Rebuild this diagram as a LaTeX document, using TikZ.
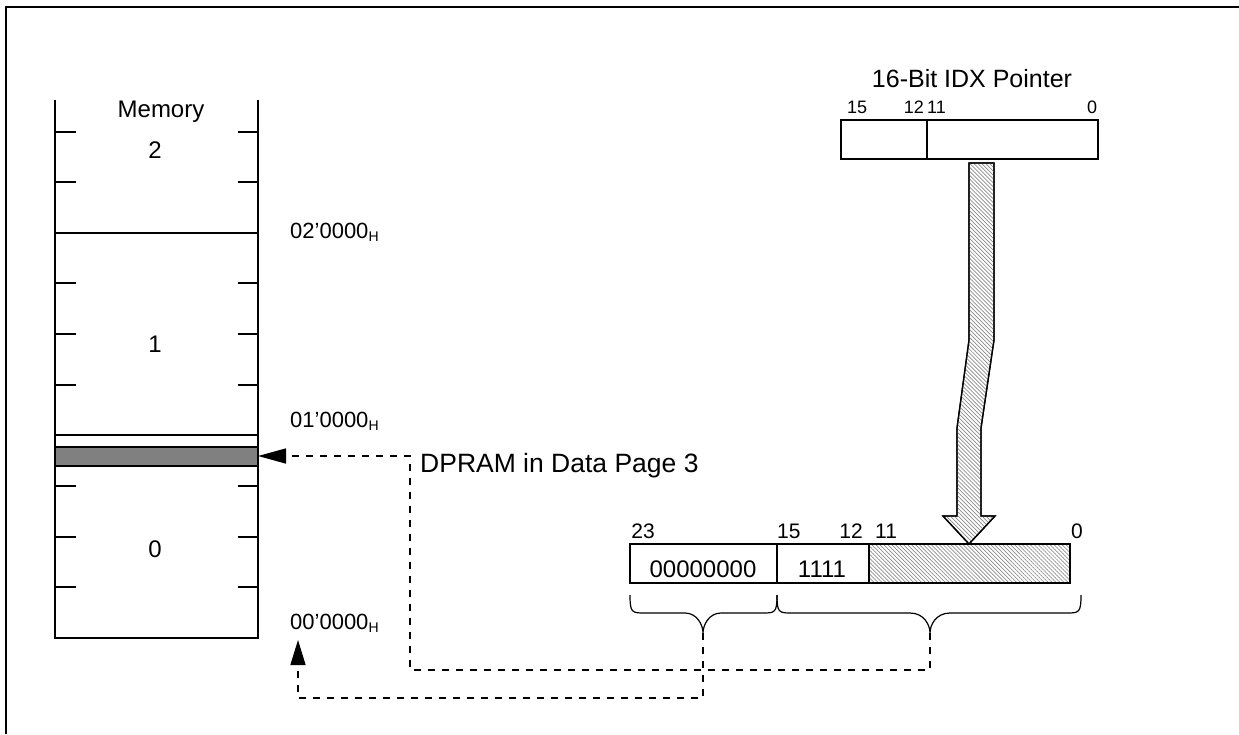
\documentclass[tikz,border=0pt]{standalone}
\usepackage{fontspec}
\setmainfont{Liberation Sans}
\usetikzlibrary{arrows.meta,patterns.meta}
\tikzset{
  ln/.style={line width=1.6pt},
  thin/.style={line width=1.3pt},
  dsh/.style={line width=1.5pt, dash pattern=on 7pt off 7pt},
  lbl/.style={inner sep=0pt, anchor=base, font=\fontsize{24}{24}\selectfont},
  bitn/.style={inner sep=0pt, anchor=base, font=\fontsize{18}{18}\selectfont},
  hatch/.style={pattern={Lines[angle=-45,distance=2.8pt,line width=0.7pt]}, pattern color=gray!90},
  addr/.style={inner sep=0pt, anchor=base west, font=\fontsize{22}{22}\selectfont},
}
\newcommand{\hsub}{\textsubscript{\fontsize{14}{14}\selectfont H}}
\begin{document}
\begin{tikzpicture}[x=1pt,y=-1pt]
\useasboundingbox (0,0) rectangle (1239,734);
% frame
\draw[line width=2pt] (6,734) -- (6,7) -- (1239,7);

% memory column
\draw[ln] (55,100) -- (55,638) -- (258,638) -- (258,100);
\foreach \y in {132,182,283,334,385,486,537,587}{
  \draw[ln] (55,\y) -- (76,\y);
  \draw[ln] (238,\y) -- (258,\y);
}
\draw[ln] (55,233) -- (258,233);
\draw[ln] (55,435) -- (258,435);
\draw[ln, fill=gray] (55,447) rectangle (258,466);
\coordinate (band) at (258,456);
\node[lbl] (memt) at (161,117) {Memory};
\node[lbl] (m2) at (155,158) {2};
\node[lbl] (m1) at (155,352) {1};
\node[lbl] (m0) at (155,557) {0};
\node[addr] (a2) at (290,238) {02’0000\hsub};
\node[addr] (a1) at (290,427) {01’0000\hsub};
\node[addr] (a0) at (290,629) {00’0000\hsub};
\coordinate (a0b) at (298,640);

\node[inner sep=0pt, anchor=base west, font=\fontsize{26.5}{26.5}\selectfont] (dpram) at (420,472) {DPRAM in Data Page 3};

% top pointer
\node[inner sep=0pt, anchor=base, font=\fontsize{25}{25}\selectfont] (title) at (972,87) {16-Bit IDX Pointer};
\draw[ln] (841,120) rectangle (1098,159);
\draw[ln] (927,120) -- (927,159);
\node[bitn] (t15) at (857,113) {15};
\node[bitn, anchor=base east] (t12) at (924,113) {12};
\node[bitn, anchor=base west] (t11) at (927,113) {11};
\node[bitn] (t0) at (1092,113) {0};

% thick arrow
\draw[thin, fill=white] (969,163) -- (994,163) -- (994,340) -- (981,428) -- (981,516) -- (995,516) -- (969,544) -- (943,516) -- (957,516) -- (957,428) -- (969,340) -- cycle;
\draw[thin, hatch] (969,163) -- (994,163) -- (994,340) -- (981,428) -- (981,516) -- (995,516) -- (969,544) -- (943,516) -- (957,516) -- (957,428) -- (969,340) -- cycle;

% bottom register
\draw[ln, hatch] (869,544) rectangle (1070,583);
\draw[ln] (630,544) rectangle (1070,583);
\draw[ln] (777,544) -- (777,583);
\draw[ln] (869,544) -- (869,583);
\node[lbl] (z) at (703,577) {00000000};
\node[lbl] (o) at (822,577) {1111};
\node[bitn, font=\fontsize{21}{21}\selectfont] (b23) at (643,538) {23};
\node[bitn, anchor=base west, font=\fontsize{21}{21}\selectfont] (b15) at (777,538) {15};
\node[bitn, anchor=base east, font=\fontsize{21}{21}\selectfont] (b12) at (863,538) {12};
\node[bitn, anchor=base west, font=\fontsize{21}{21}\selectfont] (b11) at (875,538) {11};
\node[bitn, font=\fontsize{21}{21}\selectfont] (b0) at (1077,538) {0};

% braces
\draw[line width=1.2pt] (630,595) .. controls (630,613) and (632,613) .. (645,613) -- (685,613) .. controls (697,613) and (703,625) .. (703,633) .. controls (703,625) and (709,613) .. (721,613) -- (762,613) .. controls (775,613) and (777,613) .. (777,595);
\draw[line width=1.2pt] (777,595) .. controls (777,613) and (779,613) .. (792,613) -- (910,613) .. controls (924,613) and (930,625) .. (930,633) .. controls (930,625) and (936,613) .. (950,613) -- (1066,613) .. controls (1079,613) and (1081,613) .. (1081,595);
\coordinate (br1) at (703,633);
\coordinate (br2) at (930,633);

% dashed connectors
\draw[dsh, -{Triangle[length=28pt,width=15pt]}] (br2) -- (930,670) -- (410,670) -- (410,456) -- (band);
\draw[dsh, -{Triangle[length=25pt,width=15pt]}] (br1) -- (703,698) -- (298,698) -- (a0b);
\end{tikzpicture}
\end{document}
